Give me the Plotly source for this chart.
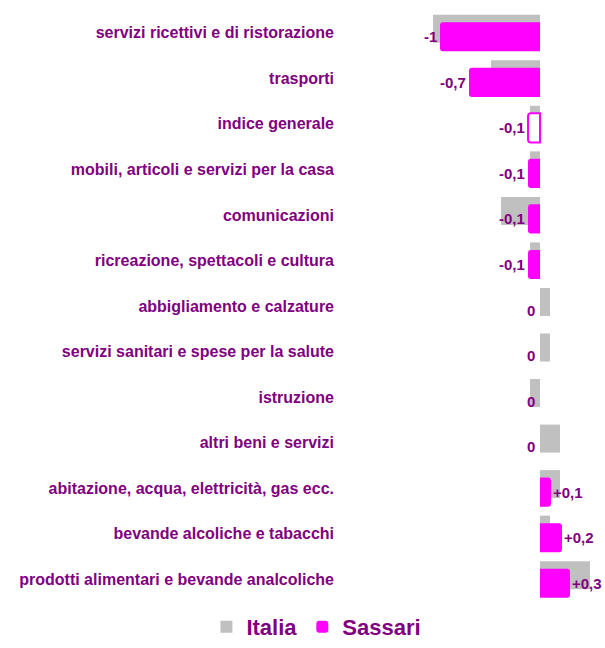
import plotly.graph_objects as go

# categorie (dall'alto in basso)
categorie = [
    "servizi ricettivi e di ristorazione",
    "trasporti",
    "indice generale",
    "mobili, articoli e servizi per la casa",
    "comunicazioni",
    "ricreazione, spettacoli e cultura",
    "abbigliamento e calzature",
    "servizi sanitari e spese per la salute",
    "istruzione",
    "altri beni e servizi",
    "abitazione, acqua, elettricità, gas ecc.",
    "bevande alcoliche e tabacchi",
    "prodotti alimentari e bevande analcoliche",
]
italia = [-1.07, -0.49, -0.1, -0.1, -0.39, -0.1, 0.1, 0.1, -0.1, 0.2, 0.2, 0.1, 0.5]
sassari = [-1.0, -0.71, -0.12, -0.12, -0.12, -0.12, 0, 0, 0, 0, 0.11, 0.22, 0.3]
etichette = ["-1", "-0,7", "-0,1", "-0,1", "-0,1", "-0,1", "0", "0", "0", "0",
             "+0,1", "+0,2", "+0,3"]

GRIGIO = "#c0c0c0"
MAGENTA = "#ff00ff"
VIOLA = "#800080"
FONT = "Liberation Sans"

# indice generale: solo contorno
riempimento = ["white" if c == "indice generale" else MAGENTA for c in categorie]
bordo = [2 if c == "indice generale" else 0 for c in categorie]

fig = go.Figure()
fig.add_trace(go.Bar(
    name="Italia", y=categorie, x=italia, orientation="h",
    marker=dict(color=GRIGIO, line=dict(width=0)),
    width=0.615, offset=-0.396, hoverinfo="skip",
))
fig.add_trace(go.Bar(
    name="Sassari", y=categorie, x=sassari, orientation="h",
    marker=dict(color=riempimento, line=dict(color=MAGENTA, width=bordo), cornerradius=3),
    width=0.64, offset=-0.232, hoverinfo="skip",
))

for cat, val, txt in zip(categorie, sassari, etichette):
    if val > 0:
        anchor, dx = "left", 0
    elif val < 0:
        anchor, dx = "right", -1
    else:
        anchor, dx = "right", -3
    fig.add_annotation(
        x=val, y=cat, text=txt, showarrow=False,
        xanchor=anchor, xshift=dx, yshift=-4,
        font=dict(family=FONT, size=15, color=VIOLA, weight="bold"),
    )

fig.update_layout(
    template="none",
    width=605, height=648,
    margin=dict(l=335, r=5, t=10, b=46, autoexpand=False),
    barmode="overlay",
    plot_bgcolor="white", paper_bgcolor="white",
    font=dict(family=FONT, color=VIOLA),
    showlegend=True,
    legend=dict(
        orientation="h", xref="container", yref="container",
        x=0.523, y=0.0, xanchor="center", yanchor="bottom",
        font=dict(family=FONT, size=22, color=VIOLA, weight="bold"),
        traceorder="normal", itemclick=False, itemdoubleclick=False,
    ),
    xaxis=dict(range=[-2.05, 0.6], showgrid=False, zeroline=False, showline=False,
               showticklabels=False, ticks="", automargin=False),
    yaxis=dict(autorange="reversed", showgrid=False, zeroline=False, showline=False,
               ticks="", automargin=False,
               tickfont=dict(family=FONT, size=16, color=VIOLA, weight="bold")),
)

# niente margine della pagina, così la figura riempie la finestra
fig.write_html("out.html", config={"displayModeBar": False},
               post_script="document.body.style.margin = '0';")
